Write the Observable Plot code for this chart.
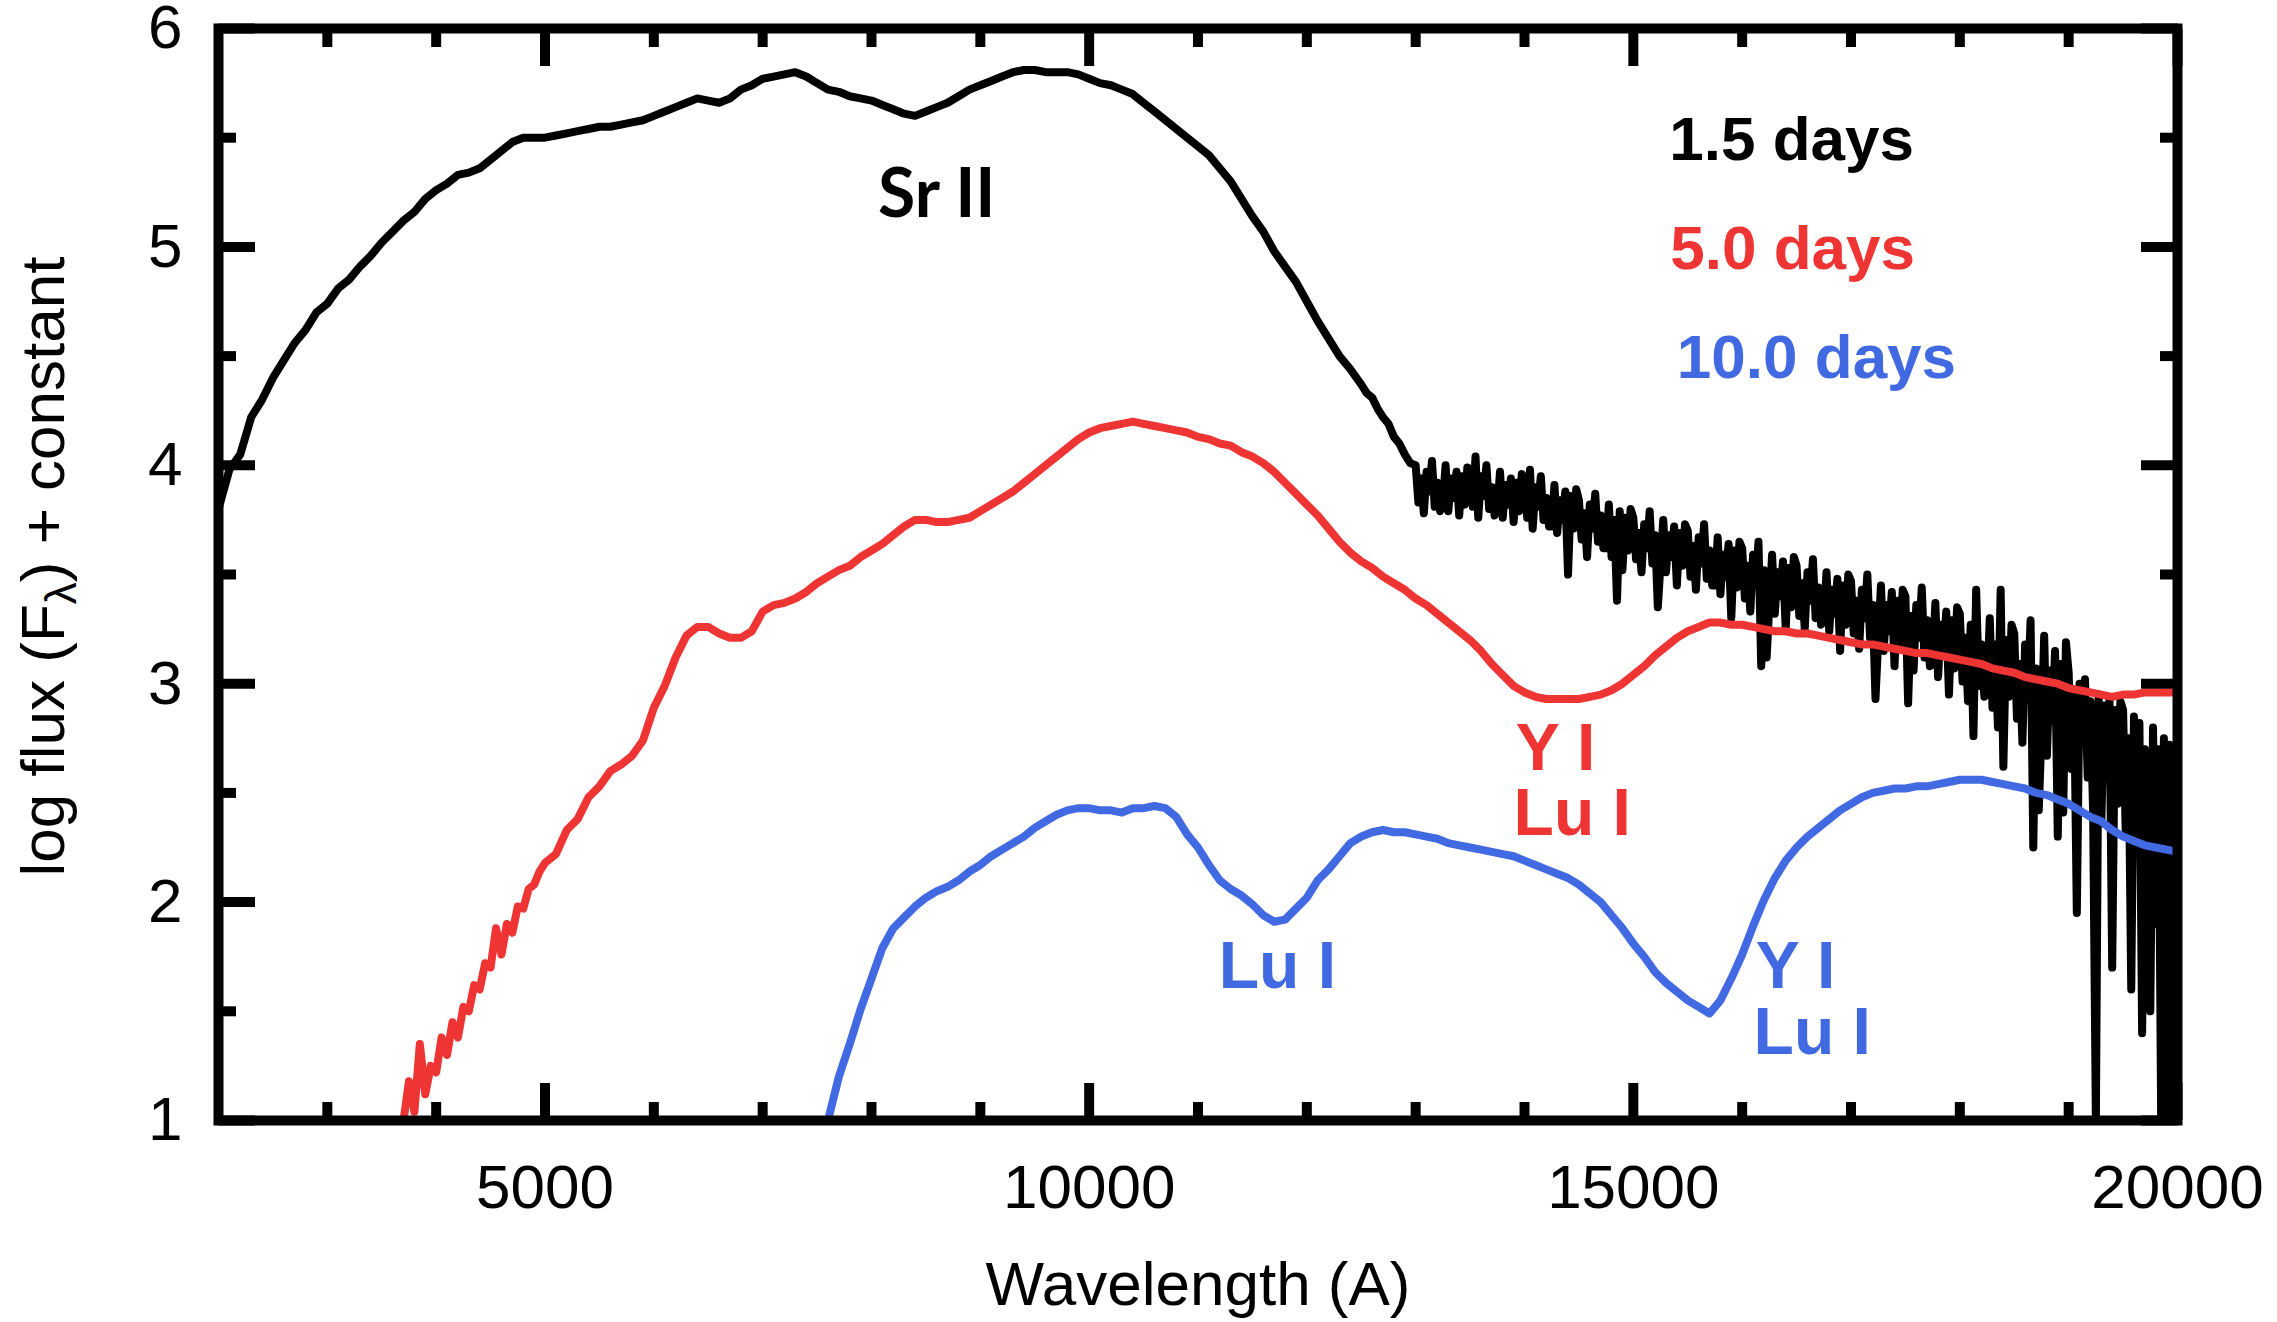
<!DOCTYPE html>
<html>
<head>
<meta charset="utf-8">
<script src="https://cdn.jsdelivr.net/npm/d3@7"></script>
<script src="https://cdn.jsdelivr.net/npm/@observablehq/plot@0.6"></script>
<style>
  html, body { margin: 0; padding: 0; background: #fff; }
  #chart svg { display: block; }
</style>
</head>
<body>
<div id="chart"></div>
<script>
// ---------------- data ----------------
// 1.5 days spectrum, part 1: 2000–12500 Å, every 100 Å
const black1Start = 2000, black1Step = 100;
const black1 = [
  3.80, 3.98, 4.05, 4.22, 4.30, 4.40, 4.48, 4.56, 4.62, 4.70,
  4.74, 4.81, 4.85, 4.91, 4.96, 5.02, 5.07, 5.12, 5.16, 5.22,
  5.26, 5.29, 5.33, 5.34, 5.36, 5.40, 5.44, 5.48, 5.50, 5.50,
  5.50, 5.51, 5.52, 5.53, 5.54, 5.55, 5.55, 5.56, 5.57, 5.58,
  5.60, 5.62, 5.64, 5.66, 5.68, 5.67, 5.66, 5.68, 5.72, 5.74,
  5.77, 5.78, 5.79, 5.80, 5.78, 5.75, 5.72, 5.71, 5.69, 5.68,
  5.67, 5.65, 5.63, 5.61, 5.60, 5.62, 5.64, 5.66, 5.69, 5.72,
  5.74, 5.76, 5.78, 5.80, 5.81, 5.81, 5.80, 5.80, 5.80, 5.79,
  5.77, 5.75, 5.74, 5.72, 5.70, 5.66, 5.62, 5.58, 5.54, 5.50,
  5.46, 5.42, 5.36, 5.30, 5.22, 5.14, 5.07, 4.98, 4.91, 4.84,
  4.75, 4.66, 4.58, 4.50, 4.44, 4.37
];
// part 2: 12550–12950 Å, every 50 Å
const black2Start = 12550, black2Step = 50;
const black2 = [4.33, 4.31, 4.26, 4.22, 4.19, 4.13, 4.10, 4.05, 4.01];
// part 3 (noisy): 13000–20000 Å, every 25 Å
const black3Start = 13000, black3Step = 25;
const black3 = [
  4.00, 3.83, 3.94, 3.78, 3.97, 3.88, 4.02, 3.81, 3.92, 3.79,
  3.83, 4.00, 3.79, 3.94, 3.85, 3.97, 3.77, 3.95, 3.82, 3.99,
  3.98, 3.81, 4.04, 3.76, 3.95, 3.86, 4.00, 3.80, 3.90, 3.77,
  3.80, 3.97, 3.76, 3.91, 3.82, 3.94, 3.74, 3.92, 3.79, 3.96,
  3.93, 3.76, 3.98, 3.71, 3.90, 3.81, 3.95, 3.75, 3.85, 3.72,
  3.72, 3.91, 3.69, 3.84, 3.75, 3.88, 3.50, 3.86, 3.71, 3.89,
  3.84, 3.66, 3.78, 3.58, 3.82, 3.71, 3.87, 3.65, 3.77, 3.62,
  3.62, 3.82, 3.58, 3.75, 3.38, 3.79, 3.52, 3.76, 3.61, 3.80,
  3.76, 3.57, 3.69, 3.51, 3.73, 3.62, 3.79, 3.55, 3.68, 3.35,
  3.55, 3.75, 3.51, 3.68, 3.58, 3.72, 3.45, 3.69, 3.54, 3.73,
  3.70, 3.49, 3.63, 3.43, 3.67, 3.55, 3.73, 3.48, 3.61, 3.45,
  3.45, 3.67, 3.41, 3.59, 3.49, 3.64, 3.30, 3.61, 3.44, 3.65,
  3.62, 3.39, 3.54, 3.33, 3.59, 3.46, 3.65, 3.08, 3.52, 3.12,
  3.37, 3.59, 3.32, 3.51, 3.40, 3.56, 3.25, 3.53, 3.35, 3.58,
  3.54, 3.31, 3.46, 3.25, 3.51, 3.38, 3.57, 3.30, 3.44, 3.27,
  3.29, 3.51, 3.24, 3.43, 3.32, 3.48, 3.15, 3.45, 3.27, 3.50,
  3.47, 3.23, 3.38, 3.16, 3.43, 3.30, 3.50, 3.21, 3.36, 2.93,
  3.20, 3.45, 3.15, 3.36, 3.24, 3.42, 3.08, 3.38, 3.18, 3.43,
  3.40, 2.91, 3.31, 3.06, 3.36, 3.21, 3.44, 3.12, 3.29, 3.08,
  3.09, 3.37, 3.03, 3.27, 3.13, 3.33, 2.95, 3.29, 3.07, 3.35,
  3.32, 3.01, 3.21, 2.92, 3.27, 2.76, 3.43, 2.99, 3.18, 2.94,
  2.96, 3.30, 2.89, 3.18, 2.80, 3.43, 2.62, 3.20, 2.94, 3.27,
  3.23, 2.84, 3.09, 2.73, 3.18, 2.95, 3.29, 2.25, 3.07, 2.42,
  2.77, 3.22, 2.67, 3.06, 2.83, 3.15, 2.30, 3.09, 2.41, 3.19,
  3.05, 2.61, 2.95, 1.95, 3.00, 2.76, 3.02, 2.57, 2.92, 2.40,
  1.00, 2.95, 2.36, 2.90, 2.58, 2.93, 1.70, 2.88, 2.45, 2.92,
  2.88, 2.30, 2.75, 1.60, 2.85, 2.50, 2.82, 1.40, 2.70, 2.15,
  1.50, 2.80, 1.90, 2.70, 1.00, 2.75, 1.00, 2.72, 1.00, 2.65,
  2.30
];
// 5.0 days spectrum, part 1: 3700–4950 Å, every 50 Å
const red1Start = 3700, red1Step = 50;
const red1 = [
  1.00, 1.18, 1.04, 1.35, 1.12, 1.25, 1.22, 1.38, 1.30, 1.45,
  1.38, 1.52, 1.50, 1.62, 1.60, 1.72, 1.70, 1.88, 1.76, 1.90,
  1.86, 1.98, 1.97, 2.06, 2.08, 2.14
];
// part 2: 5000–20000 Å, every 100 Å
const red2Start = 5000, red2Step = 100;
const red2 = [
  2.18, 2.22, 2.33, 2.38, 2.48, 2.53, 2.60, 2.63, 2.67, 2.74,
  2.89, 2.99, 3.12, 3.22, 3.26, 3.26, 3.23, 3.21, 3.21, 3.24,
  3.33, 3.36, 3.37, 3.39, 3.42, 3.46, 3.49, 3.52, 3.54, 3.58,
  3.61, 3.64, 3.68, 3.72, 3.75, 3.75, 3.74, 3.74, 3.75, 3.76,
  3.79, 3.82, 3.85, 3.88, 3.92, 3.96, 4.00, 4.04, 4.08, 4.12,
  4.15, 4.17, 4.18, 4.19, 4.20, 4.19, 4.18, 4.17, 4.16, 4.15,
  4.13, 4.12, 4.10, 4.09, 4.06, 4.04, 4.01, 3.97, 3.92, 3.87,
  3.82, 3.77, 3.71, 3.65, 3.60, 3.56, 3.53, 3.49, 3.46, 3.43,
  3.39, 3.36, 3.32, 3.28, 3.24, 3.20, 3.15, 3.09, 3.04, 2.99,
  2.96, 2.94, 2.93, 2.93, 2.93, 2.93, 2.94, 2.95, 2.97, 3.00,
  3.04, 3.08, 3.13, 3.17, 3.21, 3.24, 3.26, 3.28, 3.28, 3.27,
  3.27, 3.26, 3.25, 3.24, 3.24, 3.23, 3.23, 3.22, 3.21, 3.20,
  3.19, 3.18, 3.18, 3.17, 3.16, 3.15, 3.14, 3.14, 3.13, 3.12,
  3.11, 3.10, 3.09, 3.07, 3.06, 3.05, 3.03, 3.02, 3.01, 3.00,
  2.98, 2.97, 2.96, 2.95, 2.94, 2.95, 2.95, 2.96, 2.96, 2.96,
  2.96
];
// 10.0 days spectrum: 7600–20000 Å, every 100 Å
const blueStart = 7600, blueStep = 100;
const blue = [
  1.00, 1.20, 1.35, 1.51,
  1.65, 1.79, 1.88, 1.93, 1.98, 2.02, 2.05, 2.07, 2.10, 2.14,
  2.17, 2.21, 2.24, 2.27, 2.30, 2.34, 2.37, 2.40, 2.42, 2.43,
  2.43, 2.42, 2.42, 2.41, 2.43, 2.43, 2.44, 2.43, 2.39, 2.31,
  2.25, 2.17, 2.10, 2.06, 2.03, 1.99, 1.94, 1.91, 1.92, 1.97,
  2.02, 2.10, 2.15, 2.21, 2.27, 2.30, 2.32, 2.33, 2.32, 2.32,
  2.31, 2.30, 2.29, 2.27, 2.26, 2.25, 2.24, 2.23, 2.22, 2.21,
  2.19, 2.17, 2.15, 2.13, 2.11, 2.08, 2.04, 2.00, 1.94, 1.88,
  1.81, 1.75, 1.68, 1.63, 1.59, 1.55, 1.52, 1.49, 1.55, 1.65,
  1.76, 1.89, 2.01, 2.11, 2.19, 2.25, 2.30, 2.34, 2.38, 2.42,
  2.45, 2.48, 2.50, 2.51, 2.52, 2.52, 2.53, 2.53, 2.54, 2.55,
  2.56, 2.56, 2.56, 2.55, 2.54, 2.53, 2.52, 2.50, 2.49, 2.47,
  2.45, 2.42, 2.39, 2.37, 2.33, 2.30, 2.28, 2.26, 2.25, 2.24,
  2.23
];

// ticks
const xMajor = [5000, 10000, 15000, 20000];
const xMinor = [3000, 4000, 6000, 7000, 8000, 9000, 11000, 12000, 13000, 14000, 16000, 17000, 18000, 19000];
const yMajor = [1, 2, 3, 4, 5, 6];
const yMinor = [1.5, 2.5, 3.5, 4.5, 5.5];

// annotations (data coordinates)
const legendTexts = ["1.5 days", "5.0 days", "10.0 days"];
const legendWave = [15330, 15340, 15400];
const legendFlux = [5.60, 5.10, 4.60];
const lineLabelTexts = ["Y I", "Lu I", "Lu I", "Y I", "Lu I"];
const lineLabelWave = [13920, 13900, 11190, 16125, 16105];
const lineLabelFlux = [2.82, 2.52, 1.82, 1.82, 1.52];
const lineLabelSeries = [1, 1, 2, 2, 2];
const srText = "Sr II", srWave = 8060, srFlux = 5.36;

const xTitle = "Wavelength (A)";
const yTitle = "log flux (F\u03bb) + constant";

// ---------------- build ----------------
const colors = ["#000000", "#ef3434", "#4169e1"];
const toRows = (arr, start, step) => arr.map((v, i) => ({w: start + i * step, v}));
const blackRows = toRows(black1, black1Start, black1Step)
  .concat(toRows(black2, black2Start, black2Step))
  .concat(toRows(black3, black3Start, black3Step));
const redRows = toRows(red1, red1Start, red1Step).concat(toRows(red2, red2Start, red2Step));
const blueRows = toRows(blue, blueStart, blueStep);
const legendRows = legendTexts.map((t, i) => ({t, w: legendWave[i], v: legendFlux[i], c: colors[i]}));
const lineLabelRows = lineLabelTexts.map((t, i) => ({t, w: lineLabelWave[i], v: lineLabelFlux[i], c: colors[lineLabelSeries[i]]}));

const tickOpts = {stroke: "#000", strokeWidth: 10, strokeLinecap: "butt", tickFormat: () => "", label: null};
const sideTicks = [];
for (const anchor of ["bottom", "top"]) {
  sideTicks.push(Plot.axisX({ticks: xMajor, anchor, tickSize: -37, ...tickOpts}));
  sideTicks.push(Plot.axisX({ticks: xMinor, anchor, tickSize: -18, ...tickOpts}));
}
for (const anchor of ["left", "right"]) {
  sideTicks.push(Plot.axisY({ticks: yMajor, anchor, tickSize: -37, ...tickOpts}));
  sideTicks.push(Plot.axisY({ticks: yMinor, anchor, tickSize: -18, ...tickOpts}));
}

const font = "'Liberation Sans', Arial, Helvetica, sans-serif";

const chart = Plot.plot({
  width: 2277,
  height: 1322,
  marginLeft: 218,
  marginRight: 100,
  marginTop: 28,
  marginBottom: 202,
  x: {type: "linear", domain: [2000, 20000]},
  y: {type: "linear", domain: [1, 6]},
  style: {fontFamily: font, background: "#fff", color: "#000", overflow: "visible"},
  marks: [
    Plot.line(blackRows, {x: "w", y: "v", stroke: colors[0], strokeWidth: 8, clip: true}),
    Plot.line(redRows, {x: "w", y: "v", stroke: colors[1], strokeWidth: 8, clip: true}),
    Plot.line(blueRows, {x: "w", y: "v", stroke: colors[2], strokeWidth: 8, clip: true}),
    ...sideTicks,
    Plot.frame({stroke: "#000", strokeWidth: 10}),
    Plot.axisX({ticks: xMajor, anchor: "bottom", tickSize: 0, tickPadding: 43, fontSize: 62, label: null, tickFormat: d => String(d)}),
    Plot.axisY({ticks: yMajor, anchor: "left", tickSize: 0, tickPadding: 36, fontSize: 62, label: null, tickFormat: d => String(d)}),
    Plot.text([xTitle], {frameAnchor: "bottom", dy: 140, textAnchor: "middle", lineAnchor: "top", text: d => d, fontSize: 62, fill: "#000"}),
    Plot.text([yTitle], {frameAnchor: "left", dx: -174, dy: -8, rotate: -90, textAnchor: "middle", lineAnchor: "middle", text: d => d, fontSize: 62, fill: "#000"}),
    Plot.text(legendRows, {x: "w", y: "v", text: "t", fill: "c", fontSize: 62, fontWeight: "bold", textAnchor: "start", lineAnchor: "top"}),
    Plot.text(lineLabelRows, {x: "w", y: "v", text: "t", fill: "c", fontSize: 66, fontWeight: "bold", textAnchor: "start", lineAnchor: "top"}),
    Plot.text([srText], {x: srWave, y: srFlux, text: d => d, fill: "#000", fontSize: 68, fontWeight: "bold", fontFamily: "Lato, 'Open Sans', sans-serif", textAnchor: "start", lineAnchor: "top"})
  ]
});

// subscript lambda in the y title
const ns = "http://www.w3.org/2000/svg";
const yt = Array.from(chart.querySelectorAll("text")).find(t => t.textContent === yTitle);
if (yt) {
  yt.textContent = "log flux (F";
  const sub = document.createElementNS(ns, "tspan");
  sub.setAttribute("font-size", "44");
  sub.setAttribute("dy", "12");
  sub.textContent = "\u03bb";
  const rest = document.createElementNS(ns, "tspan");
  rest.setAttribute("dy", "-12");
  rest.textContent = ") + constant";
  yt.appendChild(sub);
  yt.appendChild(rest);
}

document.getElementById("chart").appendChild(chart);
</script>
</body>
</html>
